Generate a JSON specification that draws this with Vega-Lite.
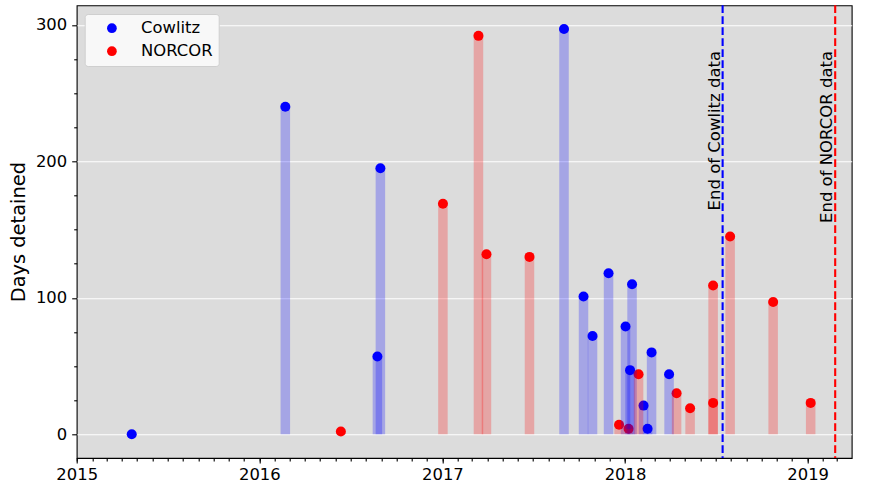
{
  "$schema": "https://vega.github.io/schema/vega-lite/v6.json",
  "width": 775,
  "height": 452.7,
  "autosize": {"type": "none"},
  "padding": {"left": 76.7, "top": 5.3, "right": 21.3, "bottom": 31},
  "background": "white",
  "config": {
    "font": "DejaVu Sans",
    "view": {"fill": "#dcdcdc", "stroke": "black", "strokeWidth": 1.1},
    "axis": {
      "labelFont": "DejaVu Sans", "labelFontSize": 16.4, "labelColor": "black",
      "tickColor": "black", "tickWidth": 1.1, "domain": false,
      "titleFont": "DejaVu Sans", "titleColor": "black", "titleFontWeight": "normal"
    },
    "legend": {
      "labelFont": "DejaVu Sans", "labelFontSize": 16.4, "labelColor": "black",
      "symbolType": "circle", "symbolSize": 95, "symbolStrokeWidth": 0,
      "fillColor": "#f8f8f8", "strokeColor": "#cfcfcf", "cornerRadius": 3,
      "padding": 6, "symbolOffset": 13, "labelOffset": 21, "rowPadding": 6
    }
  },
  "datasets": {
    "detentions": [
      {"facility": "Cowlitz", "date": "2015-04-21", "days": 0},
      {"facility": "Cowlitz", "date": "2016-02-22", "days": 240},
      {"facility": "Cowlitz", "date": "2016-08-24", "days": 57},
      {"facility": "Cowlitz", "date": "2016-08-30", "days": 195},
      {"facility": "Cowlitz", "date": "2017-09-01", "days": 297},
      {"facility": "Cowlitz", "date": "2017-10-10", "days": 101},
      {"facility": "Cowlitz", "date": "2017-10-28", "days": 72},
      {"facility": "Cowlitz", "date": "2017-11-29", "days": 118},
      {"facility": "Cowlitz", "date": "2018-01-02", "days": 79},
      {"facility": "Cowlitz", "date": "2018-01-11", "days": 47},
      {"facility": "Cowlitz", "date": "2018-01-15", "days": 110},
      {"facility": "Cowlitz", "date": "2018-02-07", "days": 21},
      {"facility": "Cowlitz", "date": "2018-02-15", "days": 4},
      {"facility": "Cowlitz", "date": "2018-02-23", "days": 60},
      {"facility": "Cowlitz", "date": "2018-03-30", "days": 44},
      {"facility": "NORCOR", "date": "2016-06-12", "days": 2},
      {"facility": "NORCOR", "date": "2017-01-02", "days": 169},
      {"facility": "NORCOR", "date": "2017-03-14", "days": 292},
      {"facility": "NORCOR", "date": "2017-03-30", "days": 132},
      {"facility": "NORCOR", "date": "2017-06-24", "days": 130},
      {"facility": "NORCOR", "date": "2017-12-20", "days": 7},
      {"facility": "NORCOR", "date": "2018-01-08", "days": 4},
      {"facility": "NORCOR", "date": "2018-01-28", "days": 44},
      {"facility": "NORCOR", "date": "2018-04-14", "days": 30},
      {"facility": "NORCOR", "date": "2018-05-11", "days": 19},
      {"facility": "NORCOR", "date": "2018-06-26", "days": 109},
      {"facility": "NORCOR", "date": "2018-06-26", "days": 23},
      {"facility": "NORCOR", "date": "2018-07-30", "days": 145},
      {"facility": "NORCOR", "date": "2018-10-24", "days": 97},
      {"facility": "NORCOR", "date": "2019-01-07", "days": 23}
    ],
    "ends": [
      {"facility": "Cowlitz", "date": "2018-07-15", "label": "End of Cowlitz data"},
      {"facility": "NORCOR", "date": "2019-02-25", "label": "End of NORCOR data"}
    ]
  },
  "layer": [
    {
      "data": {"name": "detentions"},
      "mark": {"type": "circle", "size": 100, "opacity": 1},
      "encoding": {
        "x": {
          "field": "date", "type": "temporal",
          "scale": {"type": "utc", "domain": [{"year": 2015, "month": 1, "date": 1, "utc": true}, {"year": 2019, "month": 3, "date": 30, "utc": true}]},
          "axis": {"title": null, "format": "%Y", "tickCount": {"interval": "year", "step": 1}, "tickSize": 5, "labelPadding": 3, "grid": false, "labelFlush": false, "orient": "bottom"}
        },
        "y": {
          "field": "days", "type": "quantitative",
          "scale": {"domain": [-17.4, 314.4], "nice": false, "zero": false},
          "axis": {"title": "Days detained", "titleFontSize": 19.4, "titlePadding": 7, "values": [0, 100, 200, 300], "grid": true, "gridColor": "white", "gridWidth": 1.1, "tickSize": 5, "labelPadding": 5, "orient": "left"}
        },
        "color": {
          "field": "facility", "type": "nominal",
          "scale": {"domain": ["Cowlitz", "NORCOR"], "range": ["#0000ff", "#ff0000"]},
          "legend": {"title": null, "orient": "none", "legendX": 8, "legendY": 8.7}
        }
      }
    },
    {
      "data": {"name": "detentions"},
      "mark": {"type": "rule", "strokeWidth": 9.5, "opacity": 0.25, "strokeCap": "butt"},
      "encoding": {
        "x": {"field": "date", "type": "temporal", "axis": null},
        "y": {"field": "days", "type": "quantitative", "axis": null},
        "y2": {"datum": 0},
        "color": {"condition": {"test": "datum.facility === 'Cowlitz'", "value": "#0000ff"}, "value": "#ff0000"}
      }
    },
    {
      "data": {"name": "ends"},
      "mark": {"type": "rule", "strokeWidth": 2.1, "strokeDash": [7.7, 3.3]},
      "encoding": {
        "x": {"field": "date", "type": "temporal", "axis": {"title": null, "labels": false, "tickCount": {"interval": "month", "step": 1}, "tickSize": 3, "grid": false, "domain": false, "orient": "bottom"}},
        "color": {"condition": {"test": "datum.facility === 'Cowlitz'", "value": "#0000ff"}, "value": "#ff0000"}
      }
    },
    {
      "data": {"name": "ends"},
      "mark": {"type": "text", "angle": 270, "align": "right", "baseline": "alphabetic", "dy": -3, "fontSize": 16.5, "color": "black", "font": "DejaVu Sans"},
      "encoding": {
        "x": {"field": "date", "type": "temporal", "axis": null},
        "y": {"datum": 281, "type": "quantitative", "axis": {"title": null, "labels": false, "values": [25, 50, 75, 125, 150, 175, 225, 250, 275], "tickSize": 3, "grid": false, "orient": "left"}},
        "text": {"field": "label"}
      }
    }
  ],
  "resolve": {"axis": {"x": "independent", "y": "independent"}}
}
